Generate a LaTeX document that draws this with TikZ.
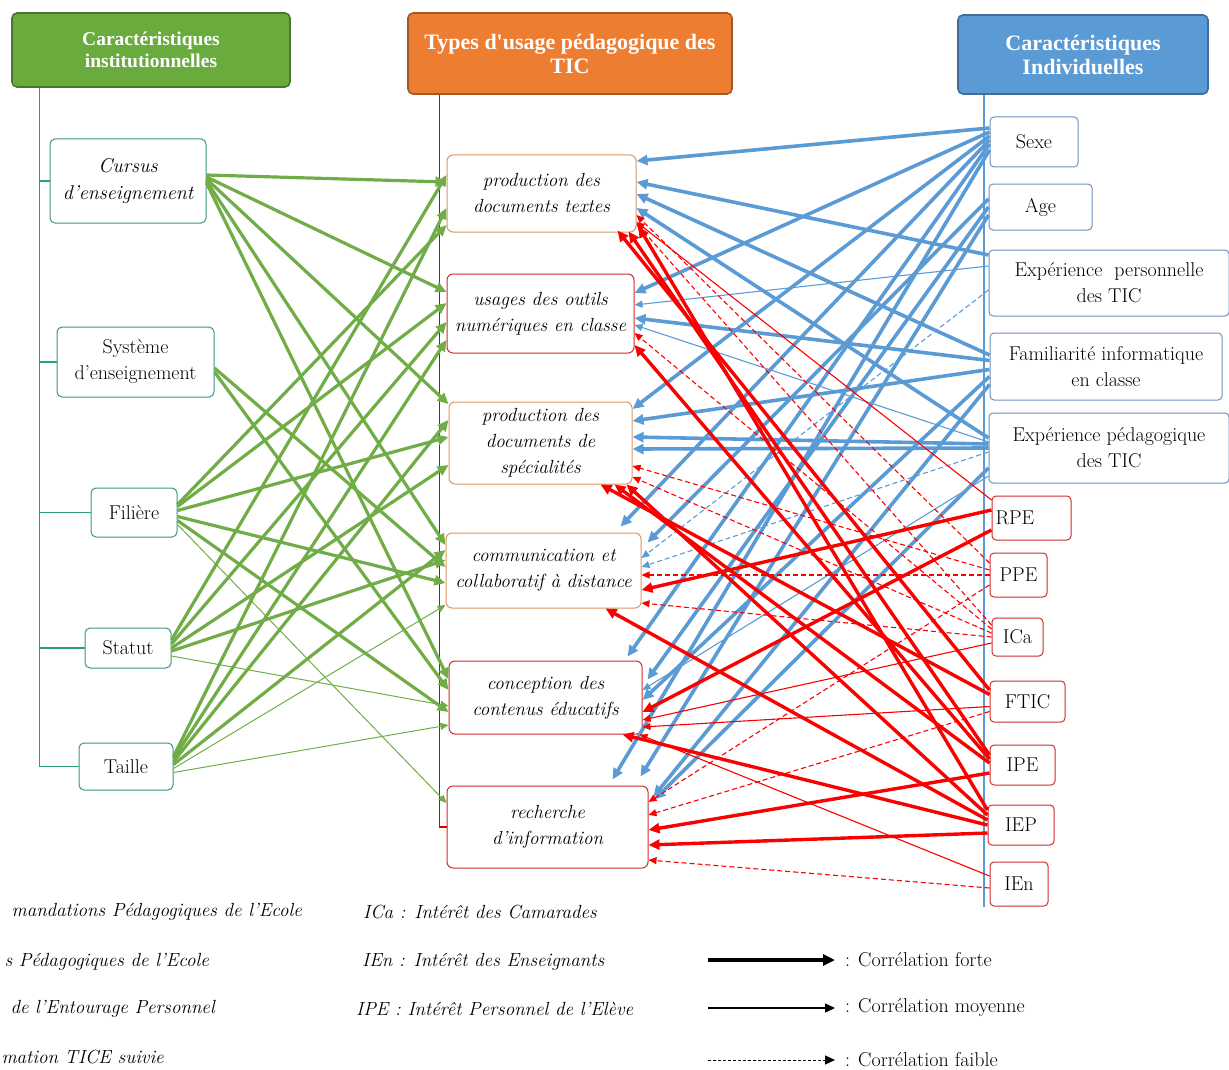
\documentclass[tikz,border=0pt]{standalone}
\usepackage{fontspec}
\newfontfamily\titlefont{Liberation Serif}
\usetikzlibrary{arrows.meta}

\definecolor{grnhead}{RGB}{106,171,62}
\definecolor{orghead}{RGB}{237,125,49}
\definecolor{bluhead}{RGB}{91,155,213}
\definecolor{grnline}{RGB}{112,173,71}
\definecolor{bluline}{RGB}{91,155,213}
\definecolor{redline}{RGB}{250,0,0}
\definecolor{tealline}{RGB}{38,160,128}
\definecolor{tealbox}{RGB}{60,150,130}
\definecolor{orgbox}{RGB}{222,150,95}
\definecolor{redbox}{RGB}{205,45,45}
\definecolor{blubox}{RGB}{110,145,190}

\tikzset{
  headbox/.style={draw=#1!70!black, fill=#1, rounded corners=5pt, line width=1.6pt,
    text=white, align=center, inner sep=2pt,
    font=\titlefont\bfseries\fontsize{22}{24}\selectfont},
  leftbox/.style={draw=tealbox, fill=white, rounded corners=5pt, line width=1pt,
    align=center, inner sep=2pt, font=\fontsize{20}{26}\selectfont},
  midbox/.style={draw=#1, fill=white, rounded corners=6pt, line width=1pt,
    align=center, inner sep=2pt, font=\itshape\fontsize{19}{26}\selectfont},
  rightbox/.style={draw=#1, fill=white, rounded corners=4pt, line width=1pt,
    align=center, inner sep=2pt, font=\fontsize{20}{26}\selectfont},
  gtrunk/.style={draw=tealline, line width=1.3pt},
  rtrunk/.style={draw=redline!85!black, line width=1.3pt},
  btrunk/.style={draw=bluline, line width=1.6pt},
  bigtip/.style={-{Triangle[length=11pt,width=10pt]}},
  smalltip/.style={-{Triangle[length=8pt,width=7pt]}},
  gthick/.style={grnline, line width=3.2pt, bigtip},
  gthin/.style={grnline, line width=1pt, smalltip},
  bthick/.style={bluline, line width=3.6pt, bigtip},
  bthin/.style={bluline, line width=1.1pt, smalltip},
  bdash/.style={bluline, line width=1.1pt, dash pattern=on 5pt off 3pt, smalltip},
  rthick/.style={redline, line width=3.4pt, bigtip},
  rthin/.style={redline, line width=1.1pt, smalltip},
  rdash/.style={redline, line width=1.1pt, dash pattern=on 5pt off 3pt, smalltip},
  legtxt/.style={inner sep=0pt, font=\itshape\fontsize{19}{22}\selectfont},
  keytxt/.style={inner sep=0pt, font=\fontsize{20}{22}\selectfont},
}

\begin{document}
\begin{tikzpicture}[x=1pt, y=-1pt]
\useasboundingbox (0,0) rectangle (1229,1070);

\node[headbox=grnhead, minimum width=278pt, minimum height=74pt, font=\titlefont\bfseries\fontsize{19.5}{21.5}\selectfont] (tg) at (151,50) {Caractéristiques\\institutionnelles};
\node[headbox=orghead, minimum width=324pt, minimum height=81pt] (to) at (570,53.5) {Types d'usage pédagogique des\\TIC};
\node[headbox=bluhead, minimum width=250pt, minimum height=79pt] (tb) at (1083,54.5) {Caractéristiques\\Individuelles};

\node[leftbox, minimum width=156pt, minimum height=84pt, font=\itshape\fontsize{20}{27}\selectfont] (cur) at (128,181) {Cursus\\d'enseignement};
\node[leftbox, minimum width=157pt, minimum height=70pt] (sys) at (135.5,362) {Système\\d'enseignement};
\node[leftbox, minimum width=86pt, minimum height=49pt] (fil) at (134,512.5) {Filière};
\node[leftbox, minimum width=86pt, minimum height=40pt] (sta) at (128,648) {Statut};
\node[leftbox, minimum width=94pt, minimum height=47pt] (tai) at (126,766.5) {Taille};

\node[midbox=orgbox, minimum width=189pt, minimum height=77pt] (pt) at (541.5,193.5) {production des\\documents textes};
\node[midbox=redbox, minimum width=187pt, minimum height=79pt] (uo) at (540.5,313.5) {usages des outils\\numériques en classe};
\node[midbox=orgbox, minimum width=183pt, minimum height=82pt] (ps) at (540.5,443) {production des\\documents de\\spécialités};
\node[midbox=orgbox, minimum width=195pt, minimum height=75pt] (cc) at (543.5,570.5) {communication et\\collaboratif à distance};
\node[midbox=redbox, minimum width=193pt, minimum height=73pt] (ce) at (545.5,697.5) {conception des\\contenus éducatifs};
\node[midbox=redbox, minimum width=201pt, minimum height=82pt] (ri) at (547.5,827) {recherche\\d'information};

\node[rightbox=blubox, minimum width=88pt, minimum height=50pt] (sexe) at (1034,142) {Sexe};
\node[rightbox=blubox, minimum width=103pt, minimum height=46pt] (age) at (1040.5,207) {Age};
\node[rightbox=blubox, minimum width=240pt, minimum height=66pt] (epe) at (1109,283) {Expérience~ personnelle\\des TIC};
\node[rightbox=blubox, minimum width=232pt, minimum height=67pt] (fam) at (1106,366.5) {Familiarité informatique\\en classe};
\node[rightbox=blubox, minimum width=240pt, minimum height=70pt] (eped) at (1109,448) {Expérience pédagogique\\des TIC};

\node[rightbox=redbox, minimum width=79pt, minimum height=44pt, align=left, text width=72pt] (rpe) at (1031.5,518) {RPE};
\node[rightbox=redbox, minimum width=57pt, minimum height=44pt] (ppe) at (1018.5,575) {PPE};
\node[rightbox=redbox, minimum width=51pt, minimum height=38pt] (ica) at (1017.5,637) {ICa};
\node[rightbox=redbox, minimum width=75pt, minimum height=41pt] (ftic) at (1027.5,701.5) {FTIC};
\node[rightbox=redbox, minimum width=65pt, minimum height=40pt] (ipe) at (1022.5,765) {IPE};
\node[rightbox=redbox, minimum width=66pt, minimum height=40pt] (iep) at (1021,825) {IEP};
\node[rightbox=redbox, minimum width=58pt, minimum height=44pt] (ien) at (1019,884) {IEn};

% trunks
\coordinate (gtr) at ([xshift=28pt]tg.south west);
\draw[gtrunk] (gtr) |- (tai.west);
\draw[gtrunk] (cur.west) -- (cur.west -| gtr);
\draw[gtrunk] (sys.west) -- (sys.west -| gtr);
\draw[gtrunk] (fil.west) -- (fil.west -| gtr);
\draw[gtrunk] (sta.west) -- (sta.west -| gtr);
\coordinate (rtr) at ([xshift=32pt]to.south west);
\draw[rtrunk] (rtr) |- (ri.west);
\coordinate (btr) at ([xshift=27pt]tb.south west);
\draw[btrunk] (btr) -- (btr |- ien.south);

% institutionnelles
\draw[gthick] ([yshift=6pt]cur.east) -- ([yshift=11.5pt]pt.west);
\draw[gthick] ([yshift=4pt]cur.east) -- ([yshift=21.5pt]uo.west);
\draw[gthick] ([yshift=2pt]cur.east) -- ([yshift=39pt]ps.west);
\draw[gthick] (cur.east) -- ([yshift=25.5pt]cc.west);
\draw[gthick] ([yshift=-2pt]cur.east) -- ([yshift=18.5pt]ce.west);
\draw[gthick] ([yshift=-6pt]sys.east) -- ([yshift=3.5pt]cc.west);
\draw[gthick] ([yshift=-10pt]sys.east) -- ([yshift=7.5pt]ce.west);
\draw[gthick] ([yshift=8pt]fil.east) -- ([yshift=-31.5pt]pt.west);
\draw[gthick] ([yshift=6pt]fil.east) -- ([yshift=10.5pt]uo.west);
\draw[gthick] ([yshift=2pt]fil.east) -- ([yshift=6pt]ps.west);
\draw[gthick] ([yshift=-4pt]fil.east) -- ([yshift=-12.5pt]cc.west);
\draw[gthick] ([yshift=-8pt]fil.east) -- ([yshift=-14.5pt]ce.west);
\draw[gthin] ([yshift=-12pt]fil.east) -- ([yshift=24pt]ri.west);
\draw[gthick] ([yshift=8pt]sta.east) -- ([yshift=18.5pt]pt.west);
\draw[gthick] ([yshift=4pt]sta.east) -- ([yshift=-8.5pt]uo.west);
\draw[gthick] (sta.east) -- ([yshift=-22pt]ps.west);
\draw[gthick] ([yshift=-3pt]sta.east) -- ([yshift=10.5pt]cc.west);
\draw[gthin] ([yshift=-8pt]sta.east) -- ([yshift=-8.5pt]ce.west);
\draw[gthick] ([yshift=10pt]tai.east) -- ([yshift=-14.5pt]pt.west);
\draw[gthick] ([yshift=8pt]tai.east) -- ([yshift=-26.5pt]uo.west);
\draw[gthick] ([yshift=5pt]tai.east) -- ([yshift=23pt]ps.west);
\draw[gthick] ([yshift=2pt]tai.east) -- ([yshift=20.5pt]cc.west);
\draw[gthin] ([yshift=-2pt]tai.east) -- ([yshift=-34.5pt]cc.west);
\draw[gthin] ([yshift=-6pt]tai.east) -- ([yshift=-27.5pt]ce.west);

% individuelles
\draw[bthick] ([yshift=14pt]sexe.west) -- ([yshift=32.5pt]pt.east);
\draw[bthick] ([yshift=10pt]sexe.west) -- ([yshift=20.5pt]uo.east);
\draw[bthick] ([yshift=6pt]sexe.west) -- ([yshift=34pt]ps.east);
\draw[bthick] ([yshift=2pt]sexe.west) -- ([xshift=-21pt,yshift=6pt]cc.north east);
\draw[bthick] ([yshift=-2pt]sexe.west) -- ([xshift=-15pt,yshift=4pt]ce.north east);
\draw[bthick] ([yshift=-8pt]sexe.west) -- ([xshift=-36pt,yshift=6pt]ri.north east);
\draw[bthick] ([yshift=8pt]age.west) -- ([xshift=6pt,yshift=-10pt]cc.north east);
\draw[bthick] (age.west) -- ([xshift=5pt,yshift=-19pt]ce.north east);
\draw[bthick] ([yshift=-8pt]age.west) -- ([xshift=-8pt,yshift=9pt]ri.north east);
\draw[bthick] ([yshift=28pt]epe.west) -- ([yshift=11.5pt]pt.east);
\draw[bthin] ([yshift=17pt]epe.west) -- ([yshift=8.5pt]uo.east);
\draw[bdash] ([yshift=-7pt]epe.west) -- ([yshift=12.5pt]cc.east);
\draw[bthick] ([yshift=11.5pt]fam.west) -- ([yshift=-0.5pt]pt.east);
\draw[bthick] ([yshift=6pt]fam.west) -- ([yshift=-4.5pt]uo.east);
\draw[bthick] ([yshift=-3pt]fam.west) -- ([yshift=22pt]ps.east);
\draw[bthick] ([yshift=-10pt]fam.west) -- ([yshift=-2.5pt]ce.east);
\draw[bthick] ([yshift=-18pt]fam.west) -- ([xshift=5pt,yshift=-11pt]ri.north east);
\draw[bthick] ([yshift=10pt]eped.west) -- ([yshift=-14.5pt]pt.east);
\draw[bthin] ([yshift=6pt]eped.west) -- ([yshift=-11.5pt]uo.east);
\draw[bthick] ([yshift=4pt]eped.west) -- ([yshift=6pt]ps.east);
\draw[bthick] (eped.west) -- ([yshift=-6pt]ps.east);
\draw[bdash] ([yshift=-4pt]eped.west) -- ([yshift=3.5pt]cc.east);
\draw[bthick] ([yshift=-20pt]eped.west) -- ([xshift=6pt,yshift=-14pt]ri.north east);
\draw[bthin] ([yshift=-28pt]eped.west) -- ([yshift=7.5pt]ce.east);

% environnement
\draw[rthick] ([yshift=11.5pt]ftic.west) -- ([xshift=-19pt,yshift=2pt]pt.south east);
\draw[rthick] ([yshift=10pt]ipe.west) -- ([xshift=-8pt,yshift=1pt]pt.south east);
\draw[rthick] ([yshift=15pt]iep.west) -- ([xshift=2pt,yshift=6pt]pt.south east);
\draw[rthin] ([yshift=18pt]rpe.west) -- ([yshift=-28.5pt]pt.east);
\draw[rdash] ([yshift=12pt]ppe.west) -- ([yshift=-21.5pt]pt.east);
\draw[rdash] ([yshift=12pt]ica.west) -- ([yshift=-30pt]pt.east);
\draw[rdash] ([yshift=8pt]ica.west) -- ([yshift=-19.5pt]uo.east);
\draw[rthick] ([yshift=6pt]ipe.west) -- ([yshift=-31.5pt]uo.east);
\draw[rthick] ([yshift=7pt]ftic.west) -- ([xshift=-32pt]ps.south east);
\draw[rthick] ([yshift=2pt]ipe.west) -- ([xshift=-18pt]ps.south east);
\draw[rthick] ([yshift=10pt]iep.west) -- ([xshift=-6pt]ps.south east);
\draw[rdash] ([yshift=5pt]ppe.west) -- ([yshift=-23pt]ps.east);
\draw[rdash] ([yshift=4pt]ica.west) -- ([yshift=-34pt]ps.east);
\draw[rdash] (ppe.west) -- ([yshift=-4.5pt]cc.east);
\draw[rthick] ([yshift=8pt]rpe.west) -- ([yshift=-19.5pt]cc.east);
\draw[rdash] (ica.west) -- ([yshift=-32.5pt]cc.east);
\draw[rthick] ([yshift=5pt]iep.west) -- ([xshift=-36pt]cc.south east);
\draw[rthick] ([yshift=-12pt]rpe.west) -- ([yshift=-14.5pt]ce.east);
\draw[rthin] ([yshift=-6pt]ica.west) -- ([yshift=-22.5pt]ce.east);
\draw[rthin] ([yshift=-5pt]ftic.west) -- ([yshift=-29.5pt]ce.east);
\draw[rthick] (iep.west) -- ([xshift=-20pt]ce.south east);
\draw[rthin] ([yshift=8pt]ien.west) -- ([xshift=-3pt]ce.south east);
\draw[rdash] ([yshift=-10pt]ppe.west) -- ([yshift=25pt]ri.east);
\draw[rdash] ([yshift=-10pt]ftic.west) -- ([yshift=12pt]ri.east);
\draw[rthick] ([yshift=-8pt]ipe.west) -- ([yshift=-3pt]ri.east);
\draw[rthick] ([yshift=-8pt]iep.west) -- ([yshift=-18pt]ri.east);
\draw[rdash] ([yshift=-4pt]ien.west) -- ([yshift=-33pt]ri.east);

% legende
\node[legtxt, anchor=east] (ab1) at (302,912) {mandations Pédagogiques de l’Ecole};
\node[legtxt, anchor=east] (ab2) at (209,962) {s Pédagogiques de l’Ecole};
\node[legtxt, anchor=east] (ab3) at (215,1009) {de l’Entourage Personnel};
\node[legtxt, anchor=east] (ab4) at (164,1057) {mation TICE suivie};
\node[legtxt, anchor=west] (ab5) at (363,912) {ICa : Intérêt des Camarades};
\node[legtxt, anchor=west] (ab6) at (362,962) {IEn : Intérêt des Enseignants};
\node[legtxt, anchor=west] (ab7) at (356,1009) {IPE : Intérêt Personnel de l’Elève};

\node[keytxt, anchor=west] (kf) at (845,960) {: Corrélation forte};
\node[keytxt, anchor=west] (km) at (845,1008) {: Corrélation moyenne};
\node[keytxt, anchor=west] (kw) at (845,1060) {: Corrélation faible};
\coordinate (kfa) at (708,960);
\coordinate (kma) at (708,1008);
\coordinate (kwa) at (708,1060);
\draw[line width=3.6pt, -{Triangle[length=12pt,width=11pt]}] (kfa) -- ([xshift=-10pt]kf.west);
\draw[line width=1.3pt, -{Triangle[length=10pt,width=9pt]}] (kma) -- ([xshift=-10pt]km.west);
\draw[line width=1pt, dash pattern=on 3pt off 2pt, -{Triangle[length=10pt,width=9pt]}] (kwa) -- ([xshift=-10pt]kw.west);
\end{tikzpicture}
\end{document}
